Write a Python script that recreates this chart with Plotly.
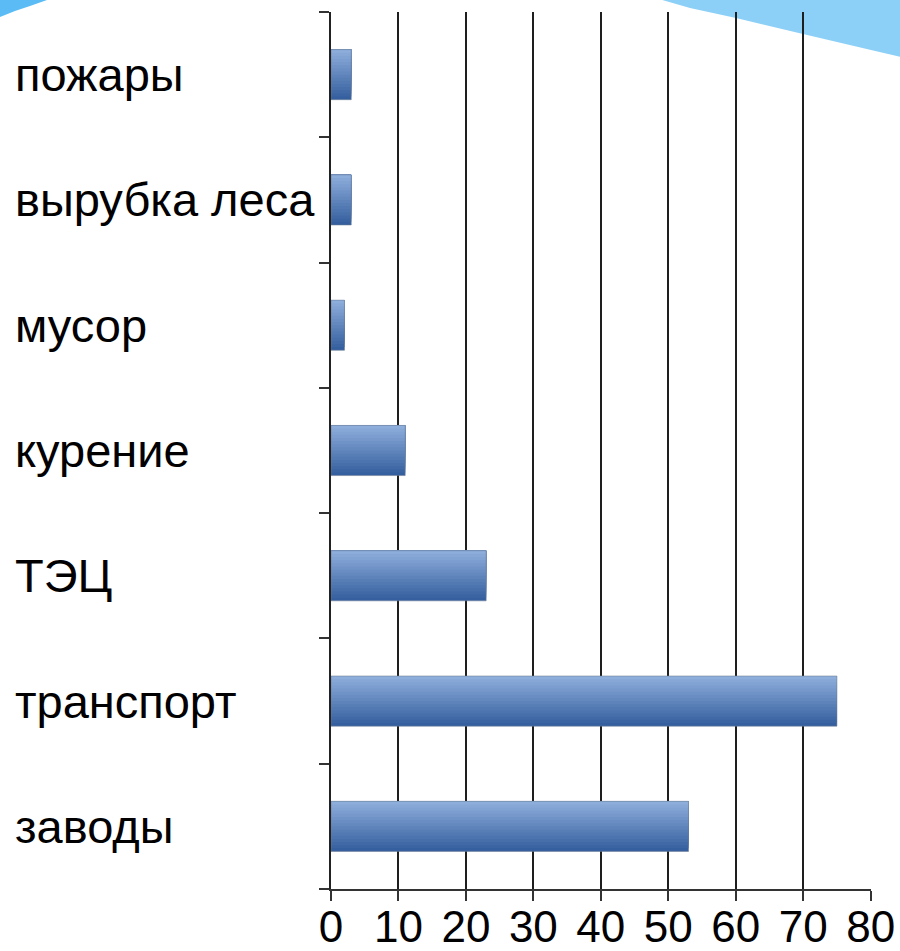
import plotly.graph_objects as go

categories = ["заводы", "транспорт", "ТЭЦ", "курение", "мусор", "вырубка леса", "пожары"]
values = [53, 75, 23, 11, 2, 3, 3]
x_ticks = [0, 10, 20, 30, 40, 50, 60, 70, 80]

W, H = 900, 951
L, R, T, B = 331, 29, 12, 62

fig = go.Figure()

# vertical gradient bars built from overlapping strips
N = 16
bw = 0.4
c_bot = (0x35, 0x5f, 0x9e)
c_top = (0x8d, 0xad, 0xdb)
for i in range(N):
    t = i / (N - 1)
    col = tuple(round(c_bot[k] + (c_top[k] - c_bot[k]) * t) for k in range(3))
    off = -bw / 2 + i * bw / N
    fig.add_trace(go.Bar(
        x=values, y=categories, orientation="h",
        offset=off, width=bw / 2 - off,
        marker=dict(color="rgb(%d,%d,%d)" % col, line=dict(width=0)),
        showlegend=False, hoverinfo="skip",
    ))
# thin outline
fig.add_trace(go.Bar(
    x=values, y=categories, orientation="h", width=bw,
    marker=dict(color="rgba(0,0,0,0)", line=dict(color="rgba(110,125,150,0.55)", width=1)),
    showlegend=False, hoverinfo="skip",
))

# category labels, left-aligned
for c in categories:
    fig.add_annotation(
        x=(13 - L) / (W - L - R), xref="paper", y=c, yref="y",
        text=c, showarrow=False, xanchor="left", yanchor="middle",
        font=dict(family="Liberation Sans, Arial, sans-serif", size=47, color="#000"),
    )

def px(x, y):
    return (x - L) / (W - L - R), (H - B - y) / (H - T - B)

# decorative swooshes
pts_tr = [(645, -5), (905, -5), (905, 58), (871, 50), (803, 34), (736, 18), (690, 8), (645, -5)]
path = "M " + " L ".join("%f,%f" % px(a, b) for a, b in pts_tr) + " Z"
fig.add_shape(type="path", path=path, xref="paper", yref="paper",
              fillcolor="#8cd0f7", line=dict(width=0), layer="below")
pts_tl = [(-5, -5), (47, -5), (47, 0), (30, 6), (15, 11), (0, 17), (-5, 19), (-5, -5)]
path2 = "M " + " L ".join("%f,%f" % px(a, b) for a, b in pts_tl) + " Z"
fig.add_shape(type="path", path=path2, xref="paper", yref="paper",
              fillcolor="#5bbcf5", line=dict(width=0), layer="below")

fig.update_layout(
    width=W, height=H,
    margin=dict(l=L, r=R, t=T, b=B, pad=0, autoexpand=False),
    paper_bgcolor="white", plot_bgcolor="rgba(0,0,0,0)",
    barmode="overlay",
    font=dict(family="Liberation Sans, Arial, sans-serif", color="#000"),
    xaxis=dict(
        range=[0, 80.05], tickvals=x_ticks, ticktext=[str(v) for v in x_ticks],
        showgrid=True, gridcolor="#1e1e1e", gridwidth=2,
        showline=True, linecolor="#333", linewidth=2,
        ticks="outside", ticklen=10, tickwidth=2, tickcolor="#333",
        tickfont=dict(size=44, color="#000"), zeroline=False, automargin=False,
        ticklabelstandoff=-12,
    ),
    yaxis=dict(
        categoryorder="array", categoryarray=categories,
        range=[-0.5, 6.5],
        showticklabels=False, tickson="boundaries",
        ticks="outside", ticklen=10, tickwidth=2, tickcolor="#333",
        showline=True, linecolor="#222", linewidth=2,
        showgrid=False, zeroline=False, automargin=False,
    ),
)

fig.write_html("out.html", config={"displayModeBar": False},
               post_script="document.body.style.margin='0';document.body.style.overflow='hidden';")
